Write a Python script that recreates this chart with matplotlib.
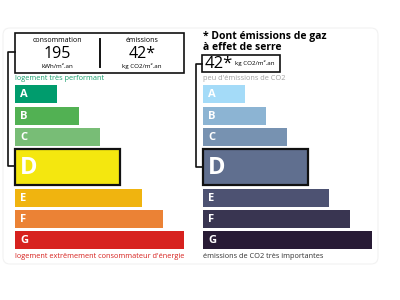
import matplotlib
matplotlib.use("Agg")
import matplotlib.pyplot as plt
from matplotlib.patches import Rectangle, FancyBboxPatch

plt.rcParams["font.family"] = ["Open Sans", "DejaVu Sans"]

letters = ["A", "B", "C", "D", "E", "F", "G"]
energy_ends = [57, 79, 100, 120, 142, 163, 184]
ges_ends = [245, 266, 287, 308, 329, 350, 372]
energy_colors = ["#009c6d", "#52b153", "#78bd76", "#f4e70f", "#f0b40f", "#eb8235", "#d7221f"]
ges_colors = ["#a4dbf8", "#8cb4d3", "#7792b1", "#606f8f", "#4d5272", "#393551", "#281b35"]
current = "D"
consumption = "195"
emissions = "42*"

fig = plt.figure(figsize=(4, 3), dpi=100)
ax = fig.add_axes([0, 0, 1, 1])
ax.set_xlim(0, 400)
ax.set_ylim(300, 0)
ax.axis("off")

# faint card outline
card = FancyBboxPatch((3, 28), 375, 236, boxstyle="round,pad=0,rounding_size=7",
                      fc="white", ec="#f2f2f2", lw=0.8)
ax.add_patch(card)

# row layout
row_top = [85, 107, 128, 149, 189, 210, 231]
row_h = [18, 18, 18, 36, 18, 18, 18]


def draw_scale(x0, ends, colors):
    for lt, end, c, top, h in zip(letters, ends, colors, row_top, row_h):
        cur = lt == current
        ax.barh(top + h / 2, end - x0, height=h, left=x0, color=c,
                edgecolor="#111111" if cur else "none", linewidth=1.6 if cur else 0)
        ax.text(x0 + 5, top + h / 2 + 0.5, lt, color="white", fontweight="bold",
                fontsize=17 if cur else 8, va="center", ha="left")


draw_scale(15, energy_ends, energy_colors)
draw_scale(203, ges_ends, ges_colors)

# left header box
ax.add_patch(Rectangle((15, 33), 169, 40, fc="white", ec="#111111", lw=1.2))
ax.plot([100, 100], [39, 67], color="#111111", lw=1.4)
ax.text(57, 41, "consommation", fontsize=5, ha="center", va="center")
ax.text(57, 54, consumption, fontsize=11.5, ha="center", va="center")
ax.text(57, 66, "kWh/m².an", fontsize=4.5, ha="center", va="center")
ax.text(142, 41, "émissions", fontsize=5, ha="center", va="center")
ax.text(142, 54, emissions, fontsize=11.5, ha="center", va="center")
ax.text(142, 66, "kg CO2/m².an", fontsize=4.5, ha="center", va="center")

# left bracket
ax.plot([15, 8, 8, 15], [52, 52, 166, 166], color="#111111", lw=1.2)

ax.text(15, 79, "logement très performant", fontsize=5.3, color="#1aa06e",
        ha="left", va="center")
ax.text(15, 256, "logement extrêmement consommateur d'énergie", fontsize=5.3,
        color="#d7221f", ha="left", va="center")

# right header
ax.text(203, 37, "* Dont émissions de gaz", fontsize=7.5, fontweight="bold",
        ha="left", va="center")
ax.text(203, 47, "à effet de serre", fontsize=7.5, fontweight="bold",
        ha="left", va="center")
ax.add_patch(Rectangle((202, 55), 78, 17, fc="white", ec="#111111", lw=1.2))
ax.text(205, 64, emissions, fontsize=12, ha="left", va="center")
ax.text(235, 63, "kg CO2/m².an", fontsize=4.5, ha="left", va="center")
ax.plot([202, 196, 196, 203], [64, 64, 167, 167], color="#111111", lw=1.2)

ax.text(203, 79, "peu d'émissions de CO2", fontsize=5.3, color="#a0a0a0",
        ha="left", va="center")
ax.text(203, 256, "émissions de CO2 très importantes", fontsize=5.3,
        color="#333333", ha="left", va="center")

fig.savefig("out.png", dpi=100)
